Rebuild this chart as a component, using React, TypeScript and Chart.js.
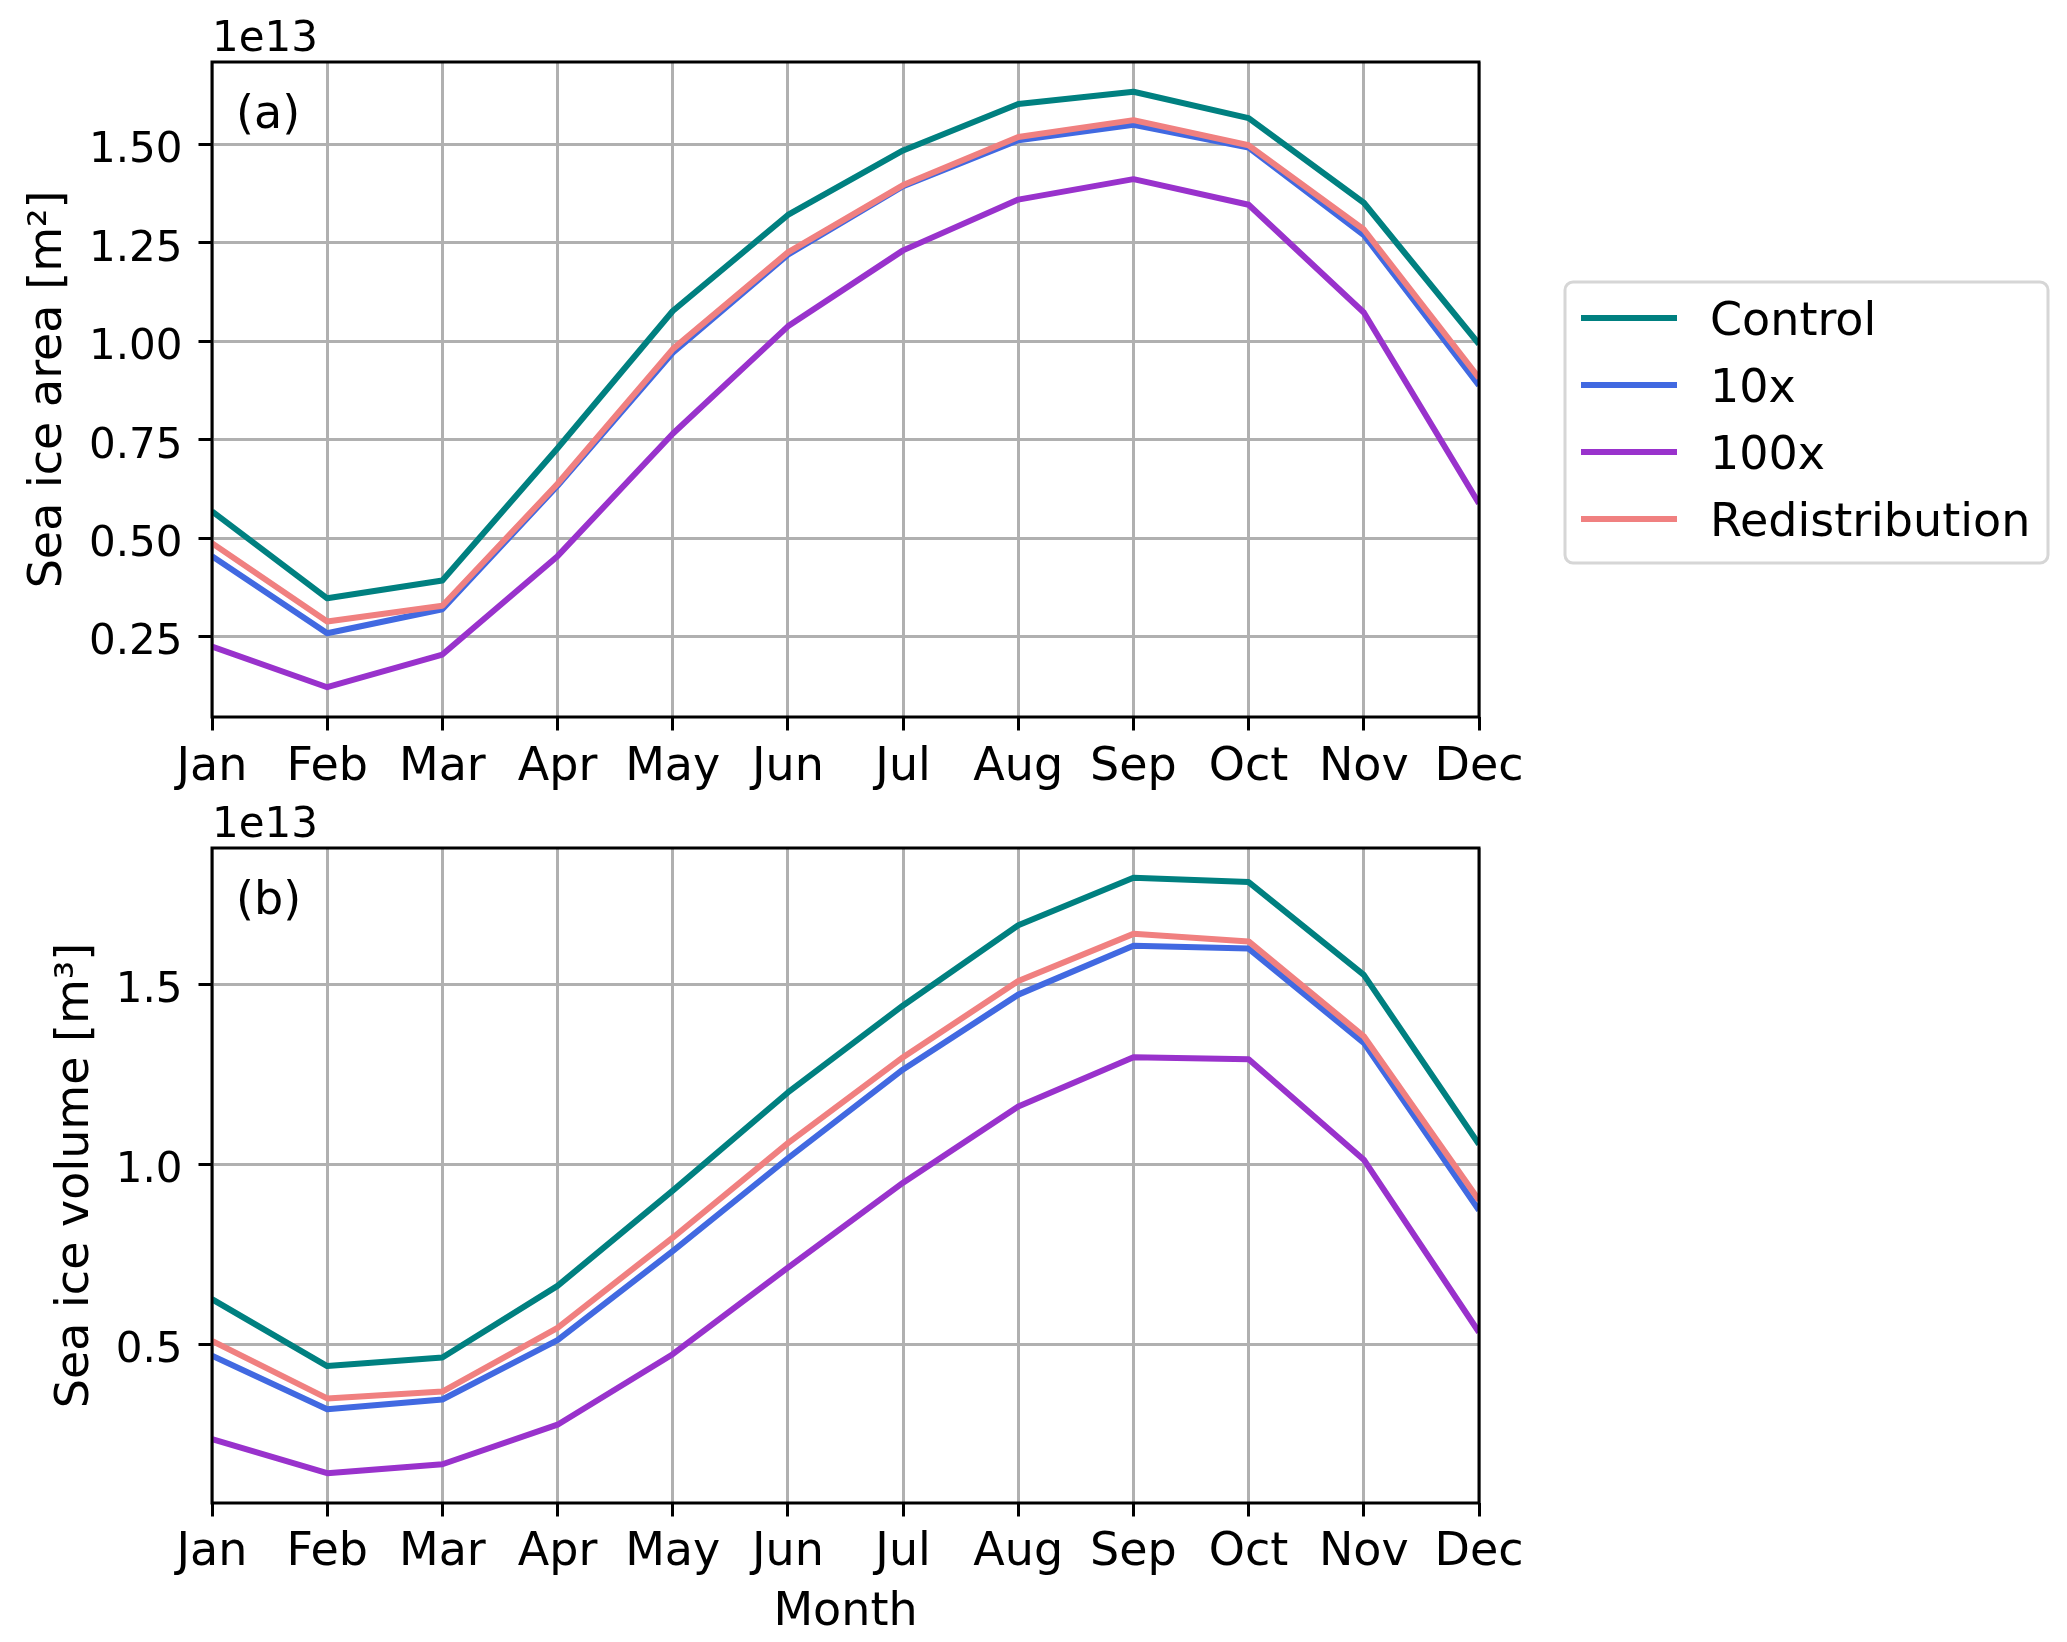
import React, { useEffect, useRef } from "react";
import { Chart, registerables } from "chart.js";

Chart.register(...registerables);

// Month categories
const MONTHS = ["Jan", "Feb", "Mar", "Apr", "May", "Jun", "Jul", "Aug", "Sep", "Oct", "Nov", "Dec"];

// Series names and colours
const SERIES_NAMES = ["Control", "10x", "100x", "Redistribution"];
const SERIES_COLORS = ["#008080", "#4169E1", "#9932CC", "#F08080"];

// (a) Sea ice area, in units of 1e13 m²
const AREA_CONTROL = [0.568, 0.347, 0.392, 0.728, 1.077, 1.321, 1.485, 1.603, 1.634, 1.567, 1.352, 0.993];
const AREA_10X = [0.454, 0.258, 0.319, 0.633, 0.971, 1.22, 1.394, 1.511, 1.55, 1.492, 1.27, 0.888];
const AREA_100X = [0.224, 0.121, 0.204, 0.454, 0.765, 1.038, 1.231, 1.36, 1.412, 1.347, 1.073, 0.588];
const AREA_REDIST = [0.487, 0.288, 0.328, 0.638, 0.98, 1.226, 1.397, 1.519, 1.562, 1.498, 1.284, 0.907];

// (b) Sea ice volume, in units of 1e13 m³
const VOL_CONTROL = [0.625, 0.439, 0.463, 0.662, 0.927, 1.2, 1.442, 1.665, 1.797, 1.785, 1.527, 1.056];
const VOL_10X = [0.468, 0.319, 0.346, 0.511, 0.759, 1.017, 1.264, 1.472, 1.608, 1.6, 1.338, 0.872];
const VOL_100X = [0.236, 0.141, 0.166, 0.276, 0.472, 0.713, 0.949, 1.161, 1.298, 1.292, 1.013, 0.533];
const VOL_REDIST = [0.509, 0.349, 0.368, 0.545, 0.796, 1.059, 1.298, 1.51, 1.641, 1.62, 1.356, 0.9];

// Tick labels
const AREA_TICKS = [0.25, 0.5, 0.75, 1.0, 1.25, 1.5];
const VOL_TICKS = [0.5, 1.0, 1.5];

const OFFSET_TEXT = "1e13";
const AREA_TITLE = "Sea ice area [m²]";
const VOL_TITLE = "Sea ice volume [m³]";
const X_TITLE = "Month";

const FONT = "'DejaVu Sans', sans-serif";
const FS_Y = 42; // y tick labels and offset text
const FS = 46; // other text

function paddedRange(series: number[][]): [number, number] {
  const all = series.flat();
  const lo = Math.min(...all);
  const hi = Math.max(...all);
  const m = (hi - lo) * 0.05;
  return [lo - m, hi + m];
}

const decorPlugin = {
  id: "decor",
  afterDraw(chart: any, _args: any, opts: any) {
    const { ctx, chartArea: a } = chart;
    ctx.save();
    // spines
    ctx.strokeStyle = "#000";
    ctx.lineWidth = 3;
    ctx.strokeRect(a.left, a.top, a.right - a.left, a.bottom - a.top);
    // offset text and panel label
    ctx.fillStyle = "#000";
    ctx.textAlign = "left";
    ctx.textBaseline = "alphabetic";
    ctx.font = `${FS_Y}px ${FONT}`;
    ctx.fillText(opts.offsetText, a.left, a.top - 11);
    ctx.font = `${FS}px ${FONT}`;
    ctx.fillText(opts.panel, a.left + 24, a.top + 66);
    if (opts.legend) {
      const bx = a.right + 86;
      const by = 282;
      const bw = 483;
      const bh = 281;
      ctx.beginPath();
      ctx.roundRect(bx, by, bw, bh, 8);
      ctx.fillStyle = "rgba(255,255,255,0.8)";
      ctx.fill();
      ctx.strokeStyle = "#d6d6d6";
      ctx.lineWidth = 3;
      ctx.stroke();
      const ds = chart.data.datasets;
      for (let i = 0; i < ds.length; i++) {
        const ry = by + 36 + i * 67;
        ctx.beginPath();
        ctx.strokeStyle = ds[i].borderColor;
        ctx.lineWidth = 6;
        ctx.lineCap = "butt";
        ctx.moveTo(bx + 16, ry);
        ctx.lineTo(bx + 112, ry);
        ctx.stroke();
        ctx.fillStyle = "#000";
        ctx.fillText(ds[i].label, bx + 145, ry + 17);
      }
    }
    ctx.restore();
  },
};

function makeConfig(
  series: number[][],
  ticks: number[],
  decimals: number,
  yTitle: string,
  yTitlePad: number,
  topPad: number,
  xHeight: number,
  xTickPad: number,
  showXTitle: boolean,
  panel: string,
  legend: boolean
): any {
  const [ymin, ymax] = paddedRange(series);
  const step = ticks[1] - ticks[0];
  return {
    type: "line",
    data: {
      labels: MONTHS,
      datasets: series.map((d, i) => ({
        label: SERIES_NAMES[i],
        data: d,
        borderColor: SERIES_COLORS[i],
        backgroundColor: SERIES_COLORS[i],
        borderWidth: 6,
        pointRadius: 0,
        pointHoverRadius: 0,
        tension: 0,
        fill: false,
        borderJoinStyle: "round",
        borderCapStyle: "butt",
        clip: 0,
        order: series.length - i,
      })),
    },
    options: {
      animation: false,
      responsive: false,
      devicePixelRatio: 1,
      events: [],
      layout: { padding: { left: 0, right: 2067 - 1479, top: topPad, bottom: 0 } },
      plugins: {
        legend: { display: false },
        tooltip: { enabled: false },
        decor: { offsetText: OFFSET_TEXT, panel, legend },
      },
      scales: {
        x: {
          type: "category",
          offset: false,
          border: { display: false },
          grid: {
            color: "#b0b0b0",
            lineWidth: 3,
            drawTicks: true,
            tickLength: 13.5,
            tickColor: "#000",
            tickWidth: 3,
          },
          ticks: {
            autoSkip: false,
            maxRotation: 0,
            minRotation: 0,
            padding: xTickPad,
            color: "#000",
            font: { family: FONT, size: FS },
          },
          title: {
            display: showXTitle,
            text: X_TITLE,
            color: "#000",
            font: { family: FONT, size: FS },
            padding: { top: 0, bottom: 1.4 },
          },
          afterFit(scale: any) {
            scale.height = xHeight;
          },
        },
        y: {
          type: "linear",
          min: ymin,
          max: ymax,
          border: { display: false },
          grid: {
            color: "#b0b0b0",
            lineWidth: 3,
            drawTicks: true,
            tickLength: 13.5,
            tickColor: "#000",
            tickWidth: 3,
          },
          ticks: {
            stepSize: step,
            includeBounds: false,
            padding: 16,
            labelOffset: 7,
            color: "#000",
            font: { family: FONT, size: FS_Y },
            callback: (v: number) => Number(v).toFixed(decimals),
          },
          afterBuildTicks(scale: any) {
            scale.ticks = ticks.map((v) => ({ value: v }));
          },
          title: {
            display: true,
            text: yTitle,
            color: "#000",
            font: { family: FONT, size: FS },
            padding: { top: yTitlePad, bottom: 0 },
          },
          afterFit(scale: any) {
            scale.width = 212;
          },
        },
      },
    },
    plugins: [decorPlugin],
  };
}

export default function App() {
  const topRef = useRef<HTMLCanvasElement | null>(null);
  const botRef = useRef<HTMLCanvasElement | null>(null);

  useEffect(() => {
    Chart.defaults.font.family = FONT;
    const c1 = new Chart(
      topRef.current as HTMLCanvasElement,
      makeConfig(
        [AREA_CONTROL, AREA_10X, AREA_100X, AREA_REDIST],
        AREA_TICKS,
        2,
        AREA_TITLE,
        21.4,
        62,
        83,
        9.9,
        false,
        "(a)",
        true
      )
    );
    const c2 = new Chart(
      botRef.current as HTMLCanvasElement,
      makeConfig(
        [VOL_CONTROL, VOL_10X, VOL_100X, VOL_REDIST],
        VOL_TICKS,
        1,
        VOL_TITLE,
        48.9,
        48,
        139,
        8.9,
        true,
        "(b)",
        false
      )
    );
    return () => {
      c1.destroy();
      c2.destroy();
    };
  }, []);

  return (
    <div
      style={{
        position: "absolute",
        left: 0,
        top: 0,
        width: 2067,
        height: 1642,
        background: "#ffffff",
        overflow: "hidden",
      }}
    >
      <canvas
        ref={topRef}
        width={2067}
        height={800}
        style={{ position: "absolute", left: 0, top: 0, width: 2067, height: 800 }}
      />
      <canvas
        ref={botRef}
        width={2067}
        height={842}
        style={{ position: "absolute", left: 0, top: 800, width: 2067, height: 842 }}
      />
    </div>
  );
}
